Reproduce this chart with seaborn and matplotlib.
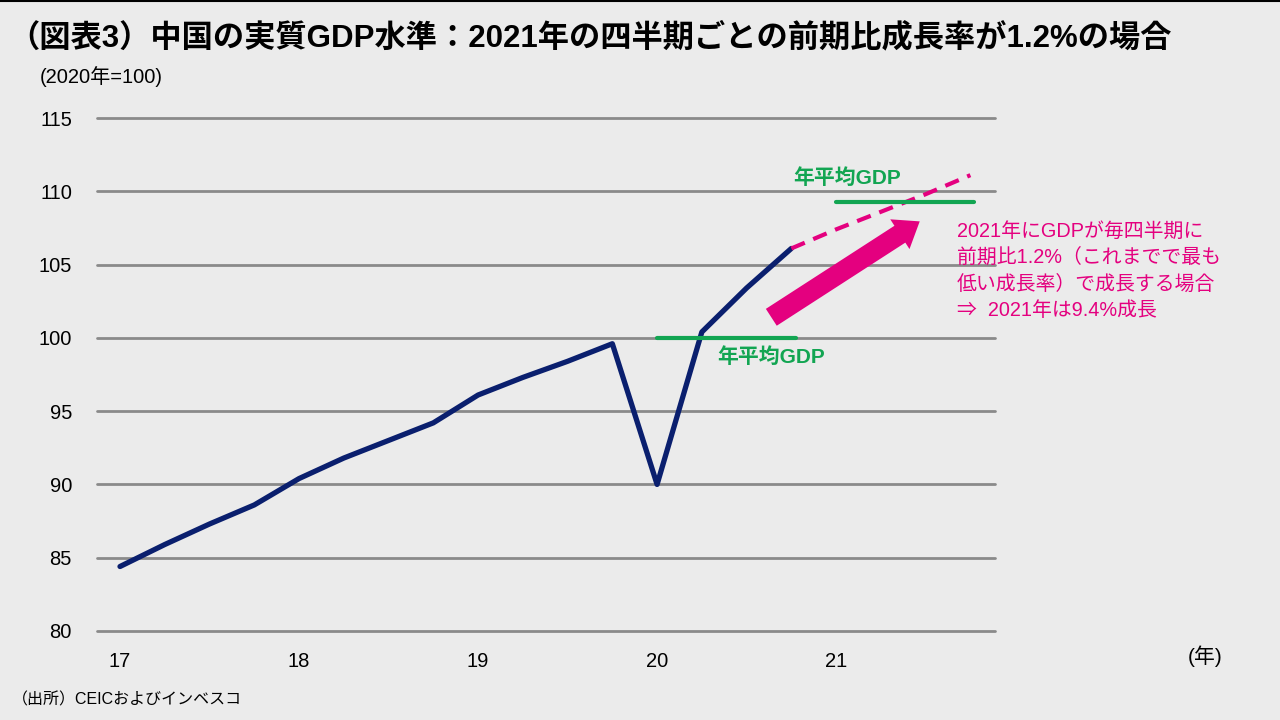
import numpy as np
import pandas as pd
import seaborn as sns
import matplotlib.pyplot as plt

# quarterly real GDP index (2020 = 100), 2017Q1 .. 2020Q4
actual_gdp = [84.4, 85.9, 87.3, 88.6, 90.4, 91.8, 93.0, 94.2,
              96.1, 97.3, 98.4, 99.6, 90.0, 100.4, 103.4, 106.1]
# 2021 path at 1.2% q/q, starting from 2020Q4
proj_gdp = [106.1, 107.4, 108.6, 109.8, 111.1]
avg_2020 = 100.0
avg_2021 = 109.3
year_labels = ["17", "18", "19", "20", "21"]
note_text = ["2021年にGDPが毎四半期に", "前期比1.2%（これまでで最も",
             "低い成長率）で成長する場合", "⇒  2021年は9.4%成長"]

navy = "#0a1f6e"
green = "#12a552"
magenta = "#e4007f"
grid_col = "#8a8a8a"
bg = "#ebebeb"

sns.set_theme(style="white")
plt.rcParams['font.family'] = ['Liberation Sans', 'Noto Sans CJK JP']
plt.rcParams['text.color'] = 'black'

df_act = pd.DataFrame({"q": np.arange(len(actual_gdp)), "gdp": actual_gdp})
df_proj = pd.DataFrame({"q": np.arange(len(proj_gdp)) + len(actual_gdp) - 1, "gdp": proj_gdp})

fig = plt.figure(figsize=(12.8, 7.2), dpi=100)
fig.patch.set_facecolor(bg)
ax = fig.add_axes([97 / 1280, 89 / 720, 898 / 1280, 513 / 720])
ax.set_facecolor(bg)

for v in range(80, 116, 5):
    ax.axhline(v, color=grid_col, lw=2, zorder=1, clip_on=False)

sns.lineplot(data=df_act, x="q", y="gdp", color=navy, lw=3.8, ax=ax, zorder=3)
sns.lineplot(data=df_proj, x="q", y="gdp", color=magenta, lw=3, ax=ax, zorder=3)
ax.lines[-1].set_linestyle((0, (3.5, 2.2)))

ax.plot([12, 15.1], [avg_2020, avg_2020], color=green, lw=3, zorder=4)
ax.plot([16, 19.08], [avg_2021, avg_2021], color=green, lw=3, zorder=4)

ax.text(14.55, 98.7, "年平均GDP", color=green, fontsize=15, fontweight="bold",
        ha="center", va="center")
ax.text(16.25, 110.9, "年平均GDP", color=green, fontsize=15, fontweight="bold",
        ha="center", va="center")

# thick magenta arrow
x0, y0, x1, y1 = 14.5, 101.3, 17.92, 108.05
ax.annotate("", xy=(x1, y1), xytext=(x0, y0),
            arrowprops=dict(arrowstyle="simple,head_length=1.0,head_width=1.5,tail_width=0.85",
                            color=magenta, lw=0, mutation_scale=17), zorder=5)

for i, line in enumerate(note_text):
    fig.text(957 / 1280, 1 - (231 + 26.5 * i) / 720, line, color=magenta,
             fontsize=14.3, ha="left", va="center")

ax.set_xlim(-0.514, 19.55)
ax.set_ylim(80, 115)
ax.set_xticks(np.arange(0, 17, 4))
ax.set_xticklabels(year_labels)
ax.set_yticks(range(80, 116, 5))
ax.tick_params(axis="both", length=0, labelsize=14.5, colors="black")
ax.tick_params(axis="x", pad=15)
ax.tick_params(axis="y", pad=18)
ax.set_xlabel("")
ax.set_ylabel("")
for s in ax.spines.values():
    s.set_visible(False)

fig.text(8 / 1280, 1 - 38 / 720, "（図表3）中国の実質GDP水準：2021年の四半期ごとの前期比成長率が1.2%の場合",
         fontsize=22.5, fontweight="bold", ha="left", va="center", color="black")
fig.text(40 / 1280, 1 - 77 / 720, "(2020年=100)", fontsize=14.5, ha="left", va="center")
fig.text(1188 / 1280, 1 - 656 / 720, "(年)", fontsize=15, ha="left", va="center")
fig.text(12 / 1280, 1 - 700 / 720, "（出所）CEICおよびインベスコ", fontsize=11.5, ha="left", va="center")
fig.add_artist(plt.Line2D([0, 1], [0.999, 0.999], color="black", lw=1.5, transform=fig.transFigure))

fig.savefig("out.png", dpi=100, facecolor=bg)
